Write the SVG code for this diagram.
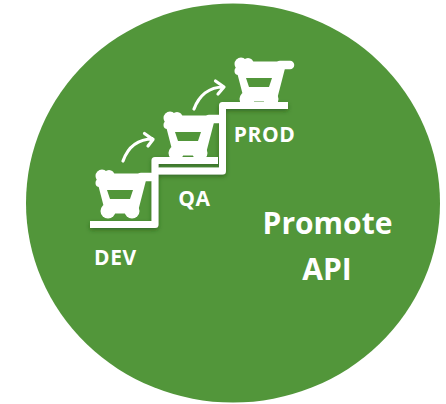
<svg xmlns="http://www.w3.org/2000/svg" width="446" height="404" viewBox="0 0 446 404">
<style>
.lb{font-family:"Open Sans","Liberation Sans",sans-serif;font-weight:700;fill:#fff;text-anchor:middle}
.sm{font-size:21px;letter-spacing:.6px}
.bg{font-size:30px}
.st{fill:none;stroke:#fff;stroke-width:7;stroke-linejoin:round}
.ar{fill:none;stroke:#fff;stroke-width:3.2;stroke-linecap:round;stroke-linejoin:round}
</style>
<defs>
<filter id="sh" x="-20%" y="-20%" width="140%" height="140%"><feDropShadow dx="0" dy="2" stdDeviation="2" flood-color="#1f4a12" flood-opacity="0.55"/></filter>
<g id="cart">
<path d="M6 10H47L39 41H14Z" fill="#fff" stroke="#fff" stroke-width="9" stroke-linejoin="round"/>
<circle cx="7" cy="8" r="6.500"/><circle cx="14" cy="7.500" r="5.500"/><circle cx="4.500" cy="15" r="4"/>
<path d="M46 9H56" stroke="#fff" stroke-width="8.500" stroke-linecap="round"/>
<circle cx="13" cy="43" r="7.500"/><circle cx="37" cy="43" r="7.500"/>
<path d="M12 22H38L35 31H15Z" fill="#52963a"/>
</g>
</defs>
<ellipse id="bg" cx="233" cy="203" rx="207" ry="199.500" fill="#52963a"/>
<g id="stairs" filter="url(#sh)">
<path class="st" d="M90 224.500H155V160.500H218"/>
<path class="st" d="M158 171H222.500V105.500H288"/>
</g>
<g id="dev" fill="#fff">
<use href="#cart" x="95" y="168" fill="#fff"/>
<text class="lb sm" x="115.500" y="264.500">DEV</text>
</g>
<g id="qa" fill="#fff">
<use href="#cart" x="163" y="110" fill="#fff"/>
<text class="lb sm" x="194.500" y="205.500">QA</text>
</g>
<g id="prod" fill="#fff">
<use href="#cart" x="234" y="56" fill="#fff"/>
<text class="lb sm" x="264.500" y="141.500">PROD</text>
</g>
<g id="connectors">
<path class="ar" d="M123 161C128 147 138 139 153 139M144.500 133.500L153 139.500L148 146"/>
<path class="ar" d="M194 109C199 96 209 87 223.500 87M215.500 81L224 87L218 94"/>
</g>
<g id="title">
<text class="lb bg" x="327.500" y="234">Promote</text>
<text class="lb bg" x="327" y="280">API</text>
</g>
</svg>
